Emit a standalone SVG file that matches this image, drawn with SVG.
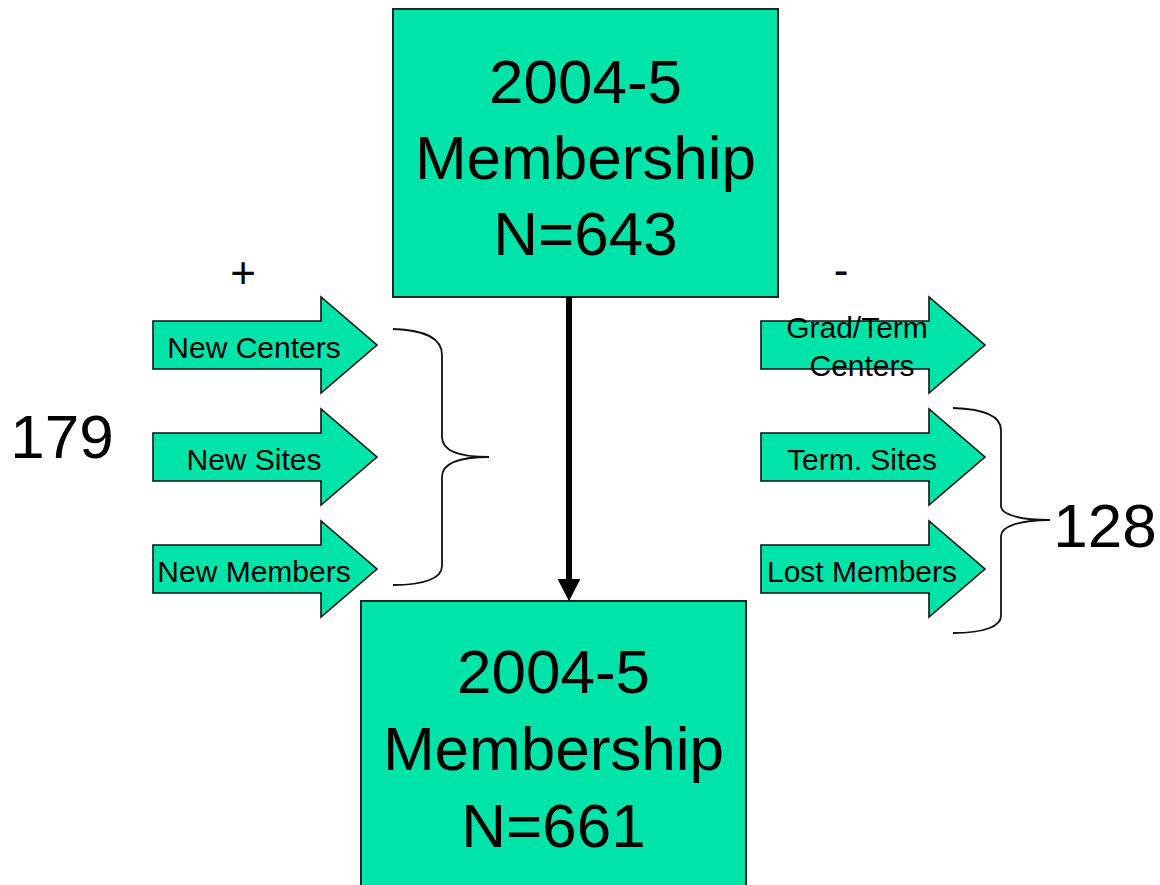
<svg xmlns="http://www.w3.org/2000/svg" width="1160" height="885" viewBox="0 0 1160 885">
<style>
.box{fill:#00E4AA;stroke:#222;stroke-width:2}
.arr{fill:#00E4AA;stroke:#111;stroke-width:1.6;stroke-linejoin:miter}
.big{font-family:"Liberation Sans",Arial,sans-serif;font-size:62px;fill:#000;text-anchor:middle}
.lbl{font-family:"Liberation Sans",Arial,sans-serif;font-size:30px;fill:#000;text-anchor:middle}
.brace{fill:none;stroke:#111;stroke-width:1.8}
</style>
<defs>
<marker id="head" markerWidth="3.7" markerHeight="3.8" refX="0" refY="1.9" orient="auto" markerUnits="strokeWidth"><path d="M0,0 L3.7,1.9 L0,3.8 Z" fill="#000"/></marker>
</defs>
<rect width="1160" height="885" fill="#fff"/>
<g id="top-box">
<rect class="box" x="393" y="9" width="385" height="288"/>
<text class="big" x="585.5" y="103">2004-5</text>
<text class="big" x="585.5" y="179">Membership</text>
<text class="big" x="585.5" y="255">N=643</text>
</g>
<g id="bottom-box">
<rect class="box" x="361" y="601" width="385" height="300"/>
<text class="big" x="553.5" y="693">2004-5</text>
<text class="big" x="553.5" y="770">Membership</text>
<text class="big" x="553.5" y="847">N=661</text>
</g>
<g id="connectors">
<line x1="569" y1="297" x2="569" y2="579" stroke="#000" stroke-width="6" marker-end="url(#head)"/>
</g>
<g id="new-centers">
<polygon class="arr" points="153,321 321,321 321,297 377,345 321,393 321,369 153,369"/>
<text class="lbl" x="254" y="358">New Centers</text>
</g>
<g id="new-sites">
<polygon class="arr" points="153,433 321,433 321,409 377,457 321,505 321,481 153,481"/>
<text class="lbl" x="254" y="470">New Sites</text>
</g>
<g id="new-members">
<polygon class="arr" points="153,545 321,545 321,521 377,569 321,617 321,593 153,593"/>
<text class="lbl" x="254" y="582">New Members</text>
</g>
<g id="grad-term-centers">
<polygon class="arr" points="761,321 929,321 929,297 985,345 929,393 929,369 761,369"/>
<text class="lbl" x="857" y="338">Grad/Term</text>
<text class="lbl" x="862" y="376">Centers</text>
</g>
<g id="term-sites">
<polygon class="arr" points="761,433 929,433 929,409 985,457 929,505 929,481 761,481"/>
<text class="lbl" x="862" y="470">Term. Sites</text>
</g>
<g id="lost-members">
<polygon class="arr" points="761,545 929,545 929,521 985,569 929,617 929,593 761,593"/>
<text class="lbl" x="862" y="582">Lost Members</text>
</g>
<g id="left-brace">
<path class="brace" d="M393,329 C425,330 442,338 442,355 L442,437 C442,450 458,457 489,457 C458,457 442,464 442,477 L442,566 C442,578 425,585 393,585"/>
</g>
<g id="right-brace">
<path class="brace" d="M953,408 C985,409 1001,416 1001,430 L1001,506 C1001,514 1018,520 1050,520 C1018,520 1001,527 1001,536 L1001,616 C1001,626 985,633 953,633"/>
</g>
<g id="labels">
<text class="big" x="62" y="458">179</text>
<text class="big" x="1105" y="547">128</text>
<text class="big" x="243" y="288" style="font-size:44px">+</text>
<text class="big" x="841" y="285" style="font-size:44px">-</text>
</g>
</svg>
